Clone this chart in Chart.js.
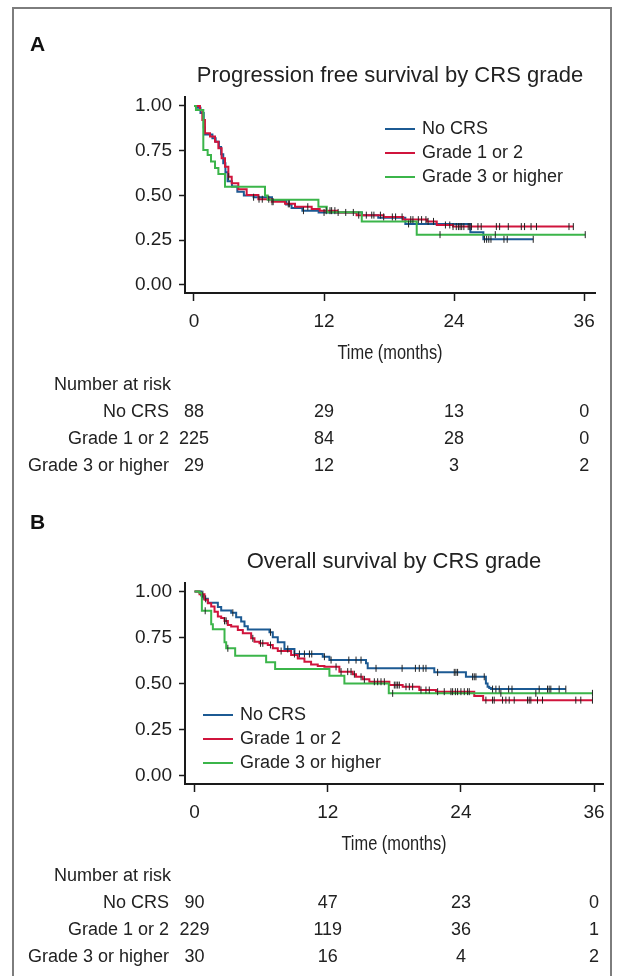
<!DOCTYPE html>
<html>
<head>
<meta charset="utf-8">
<script src="https://cdn.jsdelivr.net/npm/chart.js@4.4.1/dist/chart.umd.min.js"></script>
<style>
  html, body { margin: 0; padding: 0; background: #fff; }
  body { width: 623px; height: 976px; position: relative; overflow: hidden; }
  #frame { position: absolute; left: 12px; top: 7px; width: 600px; height: 1000px; border: 2px solid #7d7d7d; box-sizing: border-box; }
  canvas { position: absolute; left: 0; }
  #pfs { top: 0; }
  #os { top: 490px; }
</style>
</head>
<body>
<div id="frame"></div>
<canvas id="pfs" width="623" height="490"></canvas>
<canvas id="os" width="623" height="486"></canvas>
<script>
// groups, shared by both panels
const groups = ['No CRS', 'Grade 1 or 2', 'Grade 3 or higher'];
const groupColors = ['#1c5a93', '#d0143c', '#3bb54a'];
const xTicks = [0, 12, 24, 36];
const yTicks = [0, 0.25, 0.5, 0.75, 1];

// A: progression free survival (months, survival)
const pfsNoCrsT = [0, 0.3, 0.6, 0.9, 1.0, 1.7, 2.0, 2.3, 2.5, 2.7, 2.9, 3.1, 3.5, 4.0, 4.6, 5.5, 7.2, 8.5, 9.0, 10.0, 11.5, 15.5, 17.0, 19.5, 25.5, 26.7, 31.3];
const pfsNoCrsS = [1, 0.99, 0.96, 0.88, 0.84, 0.82, 0.80, 0.77, 0.73, 0.68, 0.63, 0.58, 0.55, 0.52, 0.50, 0.49, 0.47, 0.45, 0.43, 0.415, 0.405, 0.39, 0.375, 0.341, 0.294, 0.255, 0.255];
const pfsG12T = [0, 0.55, 0.77, 1.01, 1.48, 1.94, 2.25, 2.55, 2.86, 3.17, 3.48, 4.09, 4.86, 5.94, 7.17, 8.4, 9.32, 10.86, 11.6, 13.2, 15.0, 17.5, 19.3, 21.5, 22.4, 23.9, 35.0];
const pfsG12S = [1, 0.978, 0.922, 0.847, 0.829, 0.80, 0.764, 0.708, 0.661, 0.605, 0.568, 0.535, 0.503, 0.479, 0.465, 0.453, 0.437, 0.424, 0.415, 0.405, 0.39, 0.38, 0.365, 0.355, 0.335, 0.326, 0.326];
const pfsG3T = [0, 0.18, 0.86, 1.26, 1.57, 1.94, 2.25, 2.86, 6.55, 6.8, 11.48, 12.25, 15.48, 20.55, 36.1];
const pfsG3S = [1, 0.978, 0.754, 0.726, 0.689, 0.653, 0.62, 0.549, 0.50, 0.476, 0.437, 0.406, 0.354, 0.281, 0.281];
// censoring times
const pfsNoCrsCens = [5.5, 10.1, 12.0, 14.7, 15.9, 16.4, 19.8, 26.8, 27.0, 27.2, 27.4, 28.6, 28.9, 31.3];
const pfsG12Cens = [3.2, 6.0, 6.3, 6.9, 7.2, 7.3, 8.7, 8.8, 10.5, 12.2, 12.55, 12.7, 13.0, 13.3, 14.0, 15.2, 16.6, 17.2, 17.5, 18.3, 18.6, 19.2, 20.0, 20.2, 20.7, 21.0, 21.4, 21.6, 22.1, 23.2, 23.6, 23.9, 24.2, 24.4, 24.55, 24.7, 24.9, 25.3, 25.45, 25.6, 26.2, 26.5, 27.9, 28.2, 29.0, 30.2, 30.5, 31.1, 31.6, 34.6, 35.0];
const pfsG3Cens = [22.7, 27.8, 36.1];
// number at risk at 0, 12, 24, 36
const pfsRiskNoCrs = [88, 29, 13, 0];
const pfsRiskG12 = [225, 84, 28, 0];
const pfsRiskG3 = [29, 12, 3, 2];

// B: overall survival
const osNoCrsT = [0, 0.6, 0.75, 1.2, 2.1, 2.4, 3.3, 3.75, 4.2, 4.5, 4.8, 6.75, 7.05, 7.5, 8.1, 9.0, 11.55, 12.15, 15.45, 15.6, 21.6, 24.45, 26.25, 26.4, 26.55, 26.7, 33.45];
const osNoCrsS = [1, 0.978, 0.96, 0.938, 0.915, 0.896, 0.884, 0.86, 0.836, 0.811, 0.793, 0.778, 0.751, 0.724, 0.687, 0.66, 0.645, 0.627, 0.609, 0.582, 0.56, 0.536, 0.50, 0.482, 0.475, 0.469, 0.469];
const osG12T = [0, 0.45, 0.9, 1.2, 1.5, 1.8, 2.1, 2.4, 2.7, 3.0, 3.3, 3.9, 4.35, 5.1, 5.4, 5.85, 6.6, 7.05, 7.5, 8.7, 9.3, 9.9, 10.5, 11.1, 11.7, 13.05, 14.25, 14.55, 15.15, 15.75, 17.55, 18.75, 20.25, 21.75, 25.2, 26.0, 35.85];
const osG12S = [1, 0.985, 0.955, 0.936, 0.918, 0.89, 0.864, 0.855, 0.84, 0.818, 0.809, 0.791, 0.773, 0.745, 0.727, 0.718, 0.709, 0.691, 0.676, 0.655, 0.636, 0.618, 0.603, 0.595, 0.59, 0.564, 0.55, 0.536, 0.522, 0.509, 0.491, 0.482, 0.464, 0.455, 0.431, 0.409, 0.409];
const osG3T = [0, 0.45, 0.66, 1.5, 1.65, 2.7, 2.85, 3.66, 6.45, 7.26, 12.15, 13.5, 17.5, 35.85];
const osG3S = [1, 0.991, 0.895, 0.822, 0.795, 0.724, 0.691, 0.651, 0.615, 0.578, 0.542, 0.50, 0.446, 0.446];
const osNoCrsCens = [1.0, 3.45, 6.84, 8.4, 9.0, 9.45, 9.9, 10.35, 10.56, 11.7, 12.3, 13.9, 14.55, 15.0, 16.35, 18.7, 19.9, 20.25, 20.6, 20.85, 21.9, 23.4, 23.55, 23.7, 25.05, 25.2, 25.35, 26.1, 26.85, 27.15, 27.45, 28.3, 28.6, 31.05, 31.8, 31.95, 32.1, 32.85, 33.45];
const osG12Cens = [0.75, 2.7, 2.85, 5.25, 5.94, 6.15, 6.84, 7.8, 12.75, 13.2, 13.8, 14.1, 14.4, 15.0, 15.3, 16.2, 16.5, 16.8, 17.1, 18.0, 18.15, 18.3, 18.45, 19.05, 19.35, 19.65, 20.4, 20.85, 21.15, 21.9, 22.5, 23.1, 23.25, 23.5, 23.7, 24.0, 24.3, 24.6, 24.75, 26.25, 26.85, 27.0, 27.75, 28.05, 28.35, 28.8, 30.0, 30.15, 30.3, 30.9, 31.35, 34.35, 34.8, 35.85];
const osG3Cens = [0.96, 3.0, 17.85, 27.6, 30.75, 35.85];
const osRiskNoCrs = [90, 47, 23, 0];
const osRiskG12 = [229, 119, 36, 1];
const osRiskG3 = [30, 16, 4, 2];

const fontMain = '"Liberation Sans", Arial, Helvetica, sans-serif';
const xTitle = 'Time (months)';

// KM value at time t (last step at or before t)
const survAt = (times, surv, t) => {
  let s = surv[0];
  for (let i = 0; i < times.length; i++) if (times[i] <= t) s = surv[i];
  return s;
};

const panelText = {
  id: 'panelText',
  afterDraw(chart, args, o) {
    const ctx = chart.ctx;
    const xs = chart.scales.x;
    const area = chart.chartArea;
    const bottom = area.bottom;
    ctx.save();
    ctx.textBaseline = 'middle';
    ctx.fillStyle = '#111';
    ctx.font = 'bold 21px ' + fontMain;
    ctx.textAlign = 'left';
    ctx.fillText(o.letter, o.letterX, o.letterY);

    ctx.fillStyle = '#222';
    ctx.font = '22px ' + fontMain;
    ctx.textAlign = 'center';
    ctx.fillText(o.title, o.titleX, o.titleY);

    // condensed axis title
    ctx.save();
    ctx.translate((area.left + area.right) / 2, bottom + 60);
    ctx.scale(0.82, 1);
    ctx.font = '20px ' + fontMain;
    ctx.fillText(xTitle, 0, 0);
    ctx.restore();

    // legend
    ctx.font = '18px ' + fontMain;
    ctx.textAlign = 'left';
    groups.forEach((g, i) => {
      const y = o.legendY + i * 24;
      ctx.strokeStyle = groupColors[i];
      ctx.lineWidth = 2;
      ctx.beginPath();
      ctx.moveTo(o.legendX, y);
      ctx.lineTo(o.legendX + 30, y);
      ctx.stroke();
      ctx.fillText(g, o.legendX + 37, y);
    });

    // number at risk table
    ctx.fillText('Number at risk', 54, bottom + 92);
    o.risk.forEach((row, i) => {
      const y = bottom + 119 + 27 * i;
      ctx.textAlign = 'right';
      ctx.fillText(groups[i], 169, y);
      ctx.textAlign = 'center';
      row.forEach((n, k) => ctx.fillText(String(n), xs.getPixelForValue(xTicks[k]), y));
    });
    ctx.restore();
  }
};

function buildDatasets(curves, censors) {
  const sets = [];
  const drawOrder = [3, 2, 1]; // green on top, blue underneath
  curves.forEach((c, i) => {
    sets.push({
      type: 'line',
      label: groups[i],
      data: c.t.map((t, k) => ({ x: t, y: c.s[k] })),
      borderColor: groupColors[i],
      borderWidth: 2,
      stepped: true,
      pointRadius: 0,
      fill: false,
      order: drawOrder[i]
    });
    sets.push({
      type: 'scatter',
      label: groups[i] + ' censored',
      data: censors[i].map(t => ({ x: t, y: survAt(c.t, c.s, t) })),
      pointStyle: 'line',
      rotation: 90,
      pointRadius: 3.5,
      borderColor: '#222',
      backgroundColor: '#222',
      borderWidth: 1,
      order: 0
    });
  });
  return sets;
}

function makePanel(id, cfg) {
  return new Chart(document.getElementById(id), {
    type: 'line',
    data: { datasets: buildDatasets(cfg.curves, cfg.censors) },
    plugins: [panelText],
    options: {
      responsive: false,
      animation: false,
      devicePixelRatio: 1,
      layout: { padding: { left: 0, right: cfg.padRight, top: cfg.padTop, bottom: cfg.padBottom } },
      plugins: {
        legend: { display: false },
        tooltip: { enabled: false },
        panelText: cfg.text
      },
      scales: {
        x: {
          type: 'linear',
          min: cfg.xMin, max: cfg.xMax,
          afterBuildTicks: s => { s.ticks = xTicks.map(v => ({ value: v })); },
          afterFit: s => { s.height = 75; },
          grid: { drawOnChartArea: false, drawTicks: true, tickLength: 8, tickWidth: 1.5, tickColor: '#1a1a1a' },
          border: { display: true, color: '#1a1a1a', width: 2 },
          ticks: { font: { family: fontMain, size: 19 }, color: '#1e1e1e', padding: cfg.xLabelPad, maxRotation: 0, autoSkip: false }
        },
        y: {
          type: 'linear',
          min: cfg.yMin, max: cfg.yMax,
          afterBuildTicks: s => { s.ticks = yTicks.map(v => ({ value: v })); },
          afterFit: s => { s.width = 185; },
          grid: { drawOnChartArea: false, drawTicks: true, tickLength: 6, tickWidth: 1.5, tickColor: '#1a1a1a' },
          border: { display: true, color: '#1a1a1a', width: 2 },
          ticks: { font: { family: fontMain, size: 19 }, color: '#1e1e1e', padding: 7, callback: v => Number(v).toFixed(2) }
        }
      }
    }
  });
}

makePanel('pfs', {
  curves: [{ t: pfsNoCrsT, s: pfsNoCrsS }, { t: pfsG12T, s: pfsG12S }, { t: pfsG3T, s: pfsG3S }],
  censors: [pfsNoCrsCens, pfsG12Cens, pfsG3Cens],
  xMin: -0.83, xMax: 37.0, yMin: -0.045, yMax: 1.05,
  padTop: 97, padRight: 28, padBottom: 122, xLabelPad: 9,
  text: {
    letter: 'A', letterX: 30, letterY: 45,
    title: 'Progression free survival by CRS grade', titleX: 390, titleY: 76,
    legendX: 385, legendY: 129,
    risk: [pfsRiskNoCrs, pfsRiskG12, pfsRiskG3]
  }
});

makePanel('os', {
  curves: [{ t: osNoCrsT, s: osNoCrsS }, { t: osG12T, s: osG12S }, { t: osG3T, s: osG3S }],
  censors: [osNoCrsCens, osG12Cens, osG3Cens],
  xMin: -0.86, xMax: 36.8, yMin: -0.047, yMax: 1.046,
  padTop: 93, padRight: 20, padBottom: 117, xLabelPad: 9,
  text: {
    letter: 'B', letterX: 30, letterY: 33,
    title: 'Overall survival by CRS grade', titleX: 394, titleY: 72,
    legendX: 203, legendY: 225,
    risk: [osRiskNoCrs, osRiskG12, osRiskG3]
  }
});
</script>
</body>
</html>
